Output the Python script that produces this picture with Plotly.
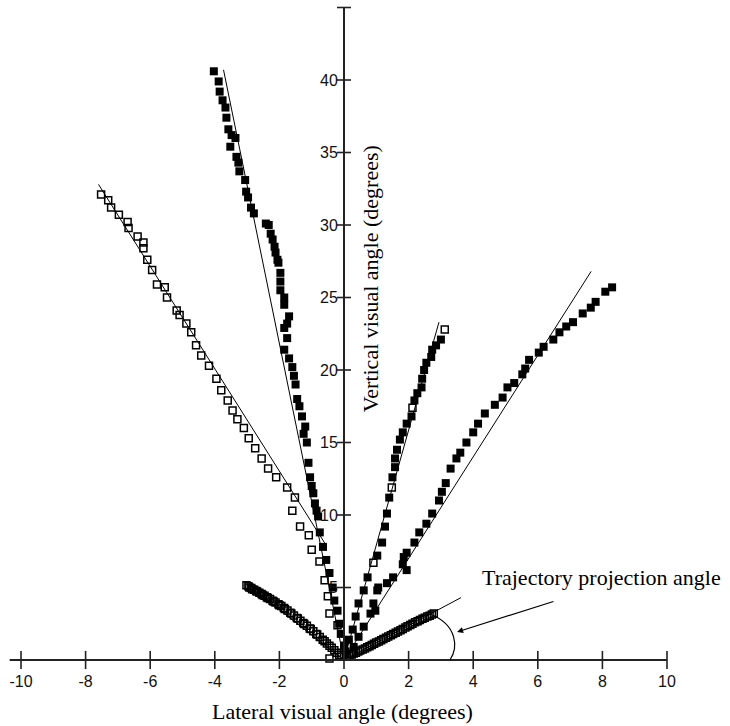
import plotly.graph_objects as go

# ---------------- data ----------------
x_ticks = [-10, -8, -6, -4, -2, 0, 2, 4, 6, 8, 10]
x_tick_labels = ["-10", "-8", "-6", "-4", "-2", "0", "2", "4", "6", "8", "10"]
y_ticks = [5, 10, 15, 20, 25, 30, 35, 40]
y_tick_labels = ["5", "10", "15", "20", "25", "30", "35", "40"]
x_axis_extent = [-10.35, 10]
y_axis_extent = [0, 45]

# A: open squares, long upper-left trajectory
a_x = [-7.52, -7.30, -7.21, -6.97, -6.70, -6.67, -6.39, -6.21, -6.21, -6.09, -5.94, -5.79,
       -5.55, -5.48, -5.18, -5.09, -4.88, -4.73, -4.58, -4.42, -4.18, -3.95, -3.80, -3.60,
       -3.45, -3.30, -3.10, -2.95, -2.75, -2.55, -2.35, -2.10, -1.76, -1.52, -1.60, -1.36,
       -1.09, -1.00, -0.76, -0.60, -0.50, -0.45, -0.20, -0.45]
a_y = [32.1, 31.7, 31.2, 30.7, 30.2, 29.8, 29.2, 28.8, 28.4, 27.6, 26.9, 25.9,
       25.7, 25.0, 24.1, 23.8, 23.2, 22.6, 21.7, 21.0, 20.3, 19.4, 18.6, 17.9,
       17.2, 16.6, 16.0, 15.3, 14.6, 13.9, 13.2, 12.6, 11.9, 11.2, 10.3, 9.2,
       8.6, 7.6, 6.8, 5.5, 4.4, 3.2, 2.4, 0.1]
a_fit_x = [-7.6, -0.55]
a_fit_y = [32.8, 7.9]

# B: filled squares, steep left trajectory (upper part)
b_x = [-4.03, -3.88, -3.85, -3.76, -3.67, -3.64, -3.58, -3.48, -3.36, -3.52, -3.33, -3.27,
       -3.24, -3.06, -3.03, -2.97, -2.88, -2.79]
b_y = [40.6, 39.9, 39.2, 38.6, 38.1, 37.4, 36.6, 36.2, 36.0, 35.4, 34.7, 34.3,
       33.7, 33.1, 32.3, 31.9, 31.2, 30.8]
b_fit_x = [-3.73, 0.0]
b_fit_y = [40.7, 0.0]

# C: filled squares, second steep left trajectory
c_x = [-2.42, -2.33, -2.27, -2.21, -2.15, -2.12, -2.06, -2.03, -1.97, -1.97, -1.97, -1.85,
       -1.85, -1.70, -1.76, -1.85, -1.76, -1.85, -1.70, -1.60, -1.55, -1.50, -1.45, -1.38,
       -1.30, -1.20, -1.25, -1.15, -1.10, -1.05, -1.00, -0.95, -0.90, -0.85, -0.80, -0.75,
       -0.65, -0.55, -0.45, -0.35, -0.30, -0.20, -0.15, -0.10, 0.00, 0.05]
c_y = [30.1, 30.0, 29.4, 29.0, 28.5, 28.1, 27.6, 27.4, 26.7, 26.1, 25.5, 25.0,
       24.5, 23.7, 23.2, 22.9, 22.2, 21.4, 20.8, 20.2, 19.6, 19.0, 18.0, 17.5,
       16.8, 16.1, 15.6, 15.0, 13.6, 12.6, 12.0, 11.5, 10.8, 10.3, 9.9, 8.8,
       7.8, 6.9, 6.0, 5.0, 4.1, 3.4, 2.5, 1.8, 1.0, 0.4]

# D: open squares, shallow lower-left trajectory (dense band)
d_x = [-3.02, -2.96, -2.93, -2.87, -2.84, -2.78, -2.72, -2.69, -2.62, -2.55, -2.52, -2.46,
       -2.39, -2.36, -2.29, -2.21, -2.18, -2.12, -2.03, -2.00, -1.94, -1.86, -1.83, -1.75,
       -1.66, -1.63, -1.55, -1.46, -1.43, -1.35, -1.26, -1.23, -1.15, -1.06, -1.03, -0.95,
       -0.86, -0.83, -0.75, -0.66, -0.60, -0.53, -0.45, -0.38, -0.30, -0.22, -0.15, -0.08]
d_y = [5.15, 5.08, 5.00, 4.97, 4.88, 4.85, 4.76, 4.72, 4.64, 4.55, 4.48, 4.43,
       4.33, 4.27, 4.20, 4.08, 4.03, 3.97, 3.84, 3.77, 3.72, 3.58, 3.52, 3.42,
       3.26, 3.20, 3.07, 2.90, 2.86, 2.70, 2.55, 2.48, 2.36, 2.18, 2.14, 1.98,
       1.80, 1.76, 1.58, 1.40, 1.30, 1.14, 0.98, 0.84, 0.67, 0.50, 0.36, 0.22]
d_fit_x = [-2.95, 0.0]
d_fit_y = [5.1, 0.0]

# E: steep right trajectory (mostly filled, a few open)
e_x = [3.00, 2.85, 2.73, 2.70, 2.55, 2.48, 2.42, 2.40, 2.27, 2.18, 2.09, 1.94,
       1.82, 1.73, 1.64, 1.58, 1.58, 1.50, 1.40, 1.33, 1.27, 1.18, 1.03, 0.73,
       0.61, 0.45, 0.36, 0.27, 0.15, 0.05]
e_y = [22.1, 21.7, 21.4, 20.9, 20.5, 20.0, 19.4, 18.8, 18.4, 17.9, 16.8, 16.3,
       15.7, 15.2, 14.5, 13.9, 13.3, 12.6, 11.2, 10.1, 9.2, 8.1, 7.2, 5.7,
       4.8, 3.9, 3.0, 2.1, 1.4, 0.6]
e_open_x = [3.12, 2.12, 1.48, 0.91]
e_open_y = [22.8, 17.4, 11.9, 6.7]
e_fit_x = [0.0, 2.94]
e_fit_y = [0.0, 23.3]

# F: filled squares, right trajectory reaching x = 8.3
f_x = [8.30, 8.09, 7.79, 7.64, 7.39, 7.09, 6.88, 6.67, 6.48, 6.18, 6.03, 5.73,
       5.61, 5.52, 5.27, 5.06, 4.91, 4.67, 4.36, 4.15, 4.00, 3.79, 3.60, 3.48,
       3.30, 3.15, 3.03, 2.94, 2.73, 2.55, 2.33, 2.18, 1.94, 1.85, 1.94, 1.82,
       1.52, 1.33, 1.06, 1.03, 0.91, 0.97, 0.82, 0.61, 0.45, 0.30]
f_y = [25.7, 25.4, 24.7, 24.3, 23.9, 23.3, 23.0, 22.6, 22.1, 21.6, 21.2, 20.7,
       20.1, 19.7, 19.1, 18.8, 18.1, 17.6, 17.0, 16.3, 15.7, 15.0, 14.3, 13.9,
       13.2, 12.2, 11.6, 11.0, 10.1, 9.4, 8.8, 8.1, 7.4, 7.1, 6.2, 6.6,
       5.7, 5.3, 5.0, 4.8, 3.9, 3.4, 3.2, 2.3, 1.6, 0.9]
f_fit_x = [0.0, 7.65]
f_fit_y = [0.0, 26.8]

# G: open squares, shallow lower-right trajectory (dense band)
g_x = [0.10, 0.17, 0.24, 0.30, 0.37, 0.44, 0.50, 0.58, 0.65, 0.72, 0.79, 0.86,
       0.93, 1.00, 1.08, 1.15, 1.22, 1.30, 1.37, 1.45, 1.52, 1.60, 1.67, 1.75,
       1.82, 1.90, 1.97, 2.05, 2.12, 2.20, 2.28, 2.35, 2.43, 2.50, 2.58, 2.65,
       2.72, 2.78]
g_y = [0.25, 0.30, 0.38, 0.44, 0.50, 0.58, 0.65, 0.72, 0.80, 0.88, 0.95, 1.04,
       1.12, 1.20, 1.28, 1.37, 1.45, 1.54, 1.62, 1.71, 1.80, 1.88, 1.97, 2.06,
       2.14, 2.24, 2.32, 2.42, 2.50, 2.60, 2.68, 2.76, 2.85, 2.92, 3.00, 3.06,
       3.13, 3.20]
g_fit_x = [0.0, 3.62]
g_fit_y = [0.0, 4.3]

# projection-angle annotation geometry (data units)
arc_pts = [(3.28, 0.0), (3.53, 0.83), (3.53, 2.41), (2.66, 3.17)]
arrow_head = (3.50, 1.93)
arrow_tail = (6.53, 4.07)
label_pos = (4.21, 5.66)

# ---------------- figure ----------------
BLACK = "black"
fig = go.Figure()

def fit_line(xs, ys):
    fig.add_trace(go.Scatter(x=xs, y=ys, mode="lines", line=dict(color=BLACK, width=1),
                             hoverinfo="skip", cliponaxis=False))

def pts(xs, ys, filled=True):
    if filled:
        m = dict(symbol="square", size=8, color=BLACK, line=dict(width=0))
    else:
        m = dict(symbol="square-open", size=7, color=BLACK, line=dict(width=1.5, color=BLACK))
    fig.add_trace(go.Scatter(x=xs, y=ys, mode="markers", marker=m, cliponaxis=False))

for fx, fy in [(a_fit_x, a_fit_y), (b_fit_x, b_fit_y), (d_fit_x, d_fit_y),
               (e_fit_x, e_fit_y), (f_fit_x, f_fit_y), (g_fit_x, g_fit_y)]:
    fit_line(fx, fy)

pts(a_x, a_y, filled=False)
pts(b_x, b_y)
pts(c_x, c_y)
pts(d_x, d_y, filled=False)
pts(e_x, e_y)
pts(e_open_x, e_open_y, filled=False)
pts(f_x, f_y)
pts(g_x, g_y, filled=False)

# axis lines
fig.add_trace(go.Scatter(x=x_axis_extent, y=[0, 0], mode="lines",
                         line=dict(color="#222", width=2), cliponaxis=False))
fig.add_trace(go.Scatter(x=[0, 0], y=y_axis_extent, mode="lines",
                         line=dict(color="#222", width=2), cliponaxis=False))
# tick marks crossing the axes
fig.add_trace(go.Scatter(x=x_ticks, y=[0] * len(x_ticks), mode="markers",
                         marker=dict(symbol="line-ns", size=13, line=dict(width=1.6, color="#222")),
                         cliponaxis=False))
fig.add_trace(go.Scatter(x=[0] * (len(y_ticks) + 1), y=y_ticks + [y_axis_extent[1]], mode="markers",
                         marker=dict(symbol="line-ew", size=10, line=dict(width=1.6, color="#222")),
                         cliponaxis=False))

# arc and arrow
p = arc_pts
arc_path = (f"M {p[0][0]},{p[0][1]} C {p[1][0]},{p[1][1]} {p[2][0]},{p[2][1]} "
            f"{p[3][0]},{p[3][1]}")
fig.add_shape(type="path", path=arc_path, xref="x", yref="y",
              line=dict(color=BLACK, width=1.2))
fig.add_annotation(x=arrow_head[0], y=arrow_head[1], ax=arrow_tail[0], ay=arrow_tail[1],
                   xref="x", yref="y", axref="x", ayref="y", text="", showarrow=True,
                   arrowhead=2, arrowsize=1, arrowwidth=1.2, arrowcolor=BLACK)
fig.add_annotation(x=label_pos[0], y=label_pos[1], xref="x", yref="y",
                   text="Trajectory projection angle", showarrow=False,
                   xanchor="left", yanchor="middle",
                   font=dict(family="Liberation Serif", size=22, color=BLACK))

# axis titles
fig.add_annotation(x=-0.05, y=-3.55, xref="x", yref="y", text="Lateral visual angle (degrees)",
                   showarrow=False, xanchor="center", yanchor="middle",
                   font=dict(family="Liberation Serif", size=22, color=BLACK))
fig.add_annotation(x=0.82, y=26.3, xref="x", yref="y", text="Vertical visual angle (degrees)",
                   showarrow=False, textangle=-90, xanchor="center", yanchor="middle",
                   font=dict(family="Liberation Serif", size=22, color=BLACK))

tickfont = dict(family="Liberation Sans", size=16, color="#111")
fig.update_layout(
    width=730, height=726, margin=dict(l=0, r=0, t=0, b=0),
    paper_bgcolor="white", plot_bgcolor="white", showlegend=False,
    xaxis=dict(range=[-10.65, 11.95], showgrid=False, zeroline=False, showline=False,
               tickmode="array", tickvals=x_ticks, ticktext=x_tick_labels,
               ticks="outside", ticklen=7, tickcolor="rgba(0,0,0,0)",
               anchor="free", position=66 / 726, tickfont=tickfont, fixedrange=True),
    yaxis=dict(range=[-4.552, 45.517], showgrid=False, zeroline=False, showline=False,
               tickmode="array", tickvals=y_ticks, ticktext=y_tick_labels,
               ticks="outside", ticklen=3, tickcolor="rgba(0,0,0,0)",
               anchor="free", position=344 / 730, side="left", tickfont=tickfont,
               fixedrange=True),
)

fig.write_html("out.html", config={"displayModeBar": False},
               post_script="document.body.style.margin='0';document.body.style.overflow='hidden';")
